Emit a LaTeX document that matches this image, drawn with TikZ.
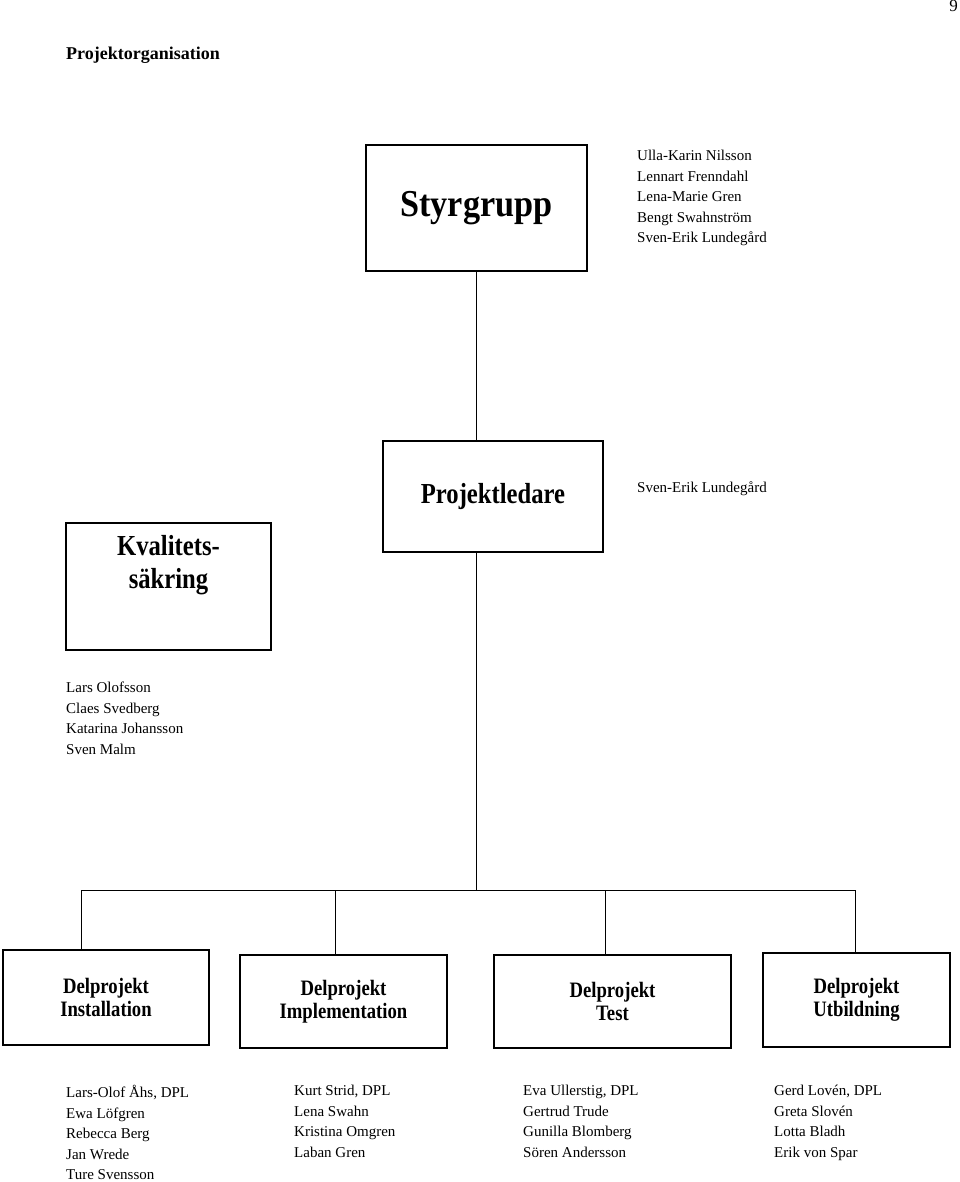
\documentclass[tikz,border=0pt]{standalone}
\usepackage{fontspec}
\setmainfont{Liberation Serif}
\begin{document}
\begin{tikzpicture}[x=1pt,y=-1pt,
  bx/.style={draw,line width=1.2pt},
  lbl/.style={font=\bfseries\fontsize{22}{23}\selectfont,align=center,xscale=0.85},
  nm/.style={anchor=north west,align=left,font=\fontsize{15}{20.5}\selectfont,inner sep=0}]
\useasboundingbox (0,0) rectangle (960,1182);
\node[anchor=north east,font=\fontsize{17}{18}\selectfont,inner sep=0] (pg) at (958,0) {9};
\node[anchor=west,font=\bfseries\fontsize{18}{20}\selectfont,inner sep=0] (title) at (66,55) {Projektorganisation};
% boxes
\node[bx,minimum width=221,minimum height=126] (sty) at (476.5,208) {};
\node[font=\bfseries\fontsize{38}{40}\selectfont,xscale=0.9] at (sty) {Styrgrupp};
\node[bx,minimum width=220,minimum height=111] (pl) at (493,496.5) {};
\node[font=\bfseries\fontsize{29}{30}\selectfont,xscale=0.85] at (pl) {Projektledare};
\node[bx,minimum width=205,minimum height=127] (kv) at (168.5,586.5) {};
\node[font=\bfseries\fontsize{29}{33}\selectfont,xscale=0.85,align=center,anchor=north] at (168.5,532) {Kvalitets-\\säkring};
\node[bx,minimum width=206,minimum height=95] (d1) at (106,997.5) {};
\node[lbl] at (d1) {Delprojekt\\Installation};
\node[bx,minimum width=207,minimum height=93] (d2) at (343.5,1001.5) {};
\node[lbl] at (d2) {Delprojekt\\Implementation};
\node[bx,minimum width=237,minimum height=93] (d3) at (612.5,1001.5) {};
\node[lbl] at (d3) {Delprojekt\\Test};
\node[bx,minimum width=187,minimum height=94] (d4) at (856.5,1000) {};
\node[lbl] at (d4) {Delprojekt\\Utbildning};
% lines
\coordinate (j) at (476,890);
\draw[line width=0.9pt] (sty.south -| j) -- (pl.north -| j);
\draw[line width=0.9pt] (pl.south -| j) -- (j);
\draw[line width=0.9pt] (81,890) -- (855,890);
\draw[line width=0.9pt] (81,890) -- (81 ,950);
\draw[line width=0.9pt] (335,890) -- (d2.north -| 335,0);
\draw[line width=0.9pt] (605,890) -- (d3.north -| 605,0);
\draw[line width=0.9pt] (855,890) -- (d4.north -| 855,0);
% names
\node[nm] (n0) at (637,150) {Ulla-Karin Nilsson\\Lennart Frenndahl\\Lena-Marie Gren\\Bengt Swahnström\\Sven-Erik Lundegård};
\node[nm] (n1) at (637,481) {Sven-Erik Lundegård};
\node[nm] (n2) at (66,682) {Lars Olofsson\\Claes Svedberg\\Katarina Johansson\\Sven Malm};
\node[nm] (n3) at (66,1085) {Lars-Olof Åhs, DPL\\Ewa Löfgren\\Rebecca Berg\\Jan Wrede\\Ture Svensson};
\node[nm] (n4) at (294,1085) {Kurt Strid, DPL\\Lena Swahn\\Kristina Omgren\\Laban Gren};
\node[nm] (n5) at (523,1085) {Eva Ullerstig, DPL\\Gertrud Trude\\Gunilla Blomberg\\Sören Andersson};
\node[nm] (n6) at (774,1085) {Gerd Lovén, DPL\\Greta Slovén\\Lotta Bladh\\Erik von Spar};
\end{tikzpicture}
\end{document}
